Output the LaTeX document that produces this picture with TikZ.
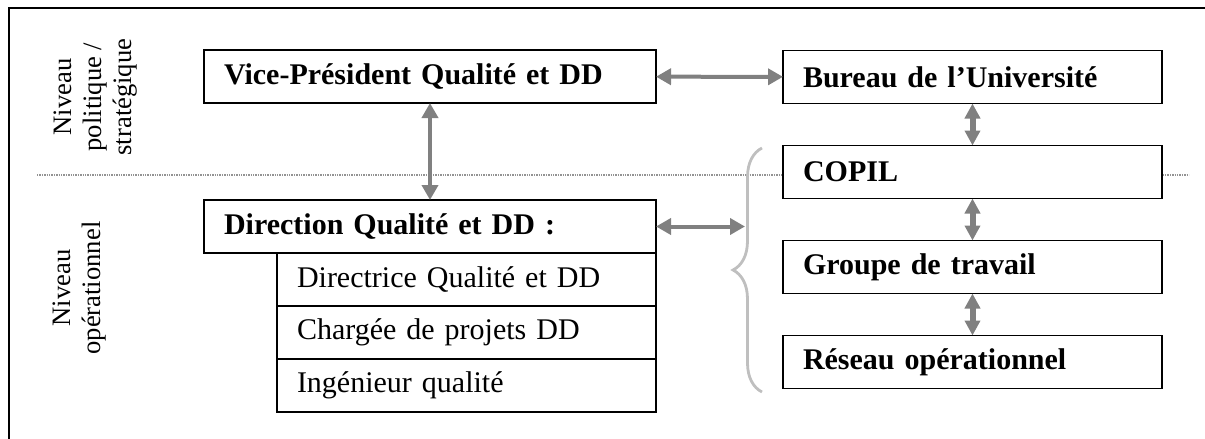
\documentclass[tikz,border=0pt]{standalone}
\usepackage{fontspec}
\setmainfont{Liberation Serif}
\usetikzlibrary{calc}
\usetikzlibrary{arrows.meta,positioning,decorations.pathreplacing}

\tikzset{
  box/.style={draw,fill=white,line width=0.6pt,outer sep=0pt,inner xsep=10pt,
    minimum height=26.5pt,align=left,text width=169.5pt,font=\fontsize{15}{18}\selectfont},
  headbox/.style={box,font=\bfseries\fontsize{15}{18}\selectfont},
  widebox/.style={headbox,text width=206pt},
  level/.style={align=center,rotate=90,font=\fontsize{13.3}{15}\selectfont},
  biglink/.style={draw=gray,line width=2pt,{Triangle[width=8pt,length=7.5pt]}-{Triangle[width=8pt,length=7.5pt]}},
  smalllink/.style={draw=gray,line width=3pt,{Triangle[width=7.5pt,length=7.5pt]}-{Triangle[width=7.5pt,length=7.5pt]}}
}

\begin{document}
\begin{tikzpicture}[x=0.5pt,y=-0.5pt]
    \useasboundingbox (0,0) rectangle (1205,439);
    \draw[line width=1pt] (9,439) -- (9,8) -- (1205,8);
    % separation between the two levels
    \coordinate (sepL) at (37,175);
    \coordinate (sepR) at (1189,175);
    \draw[gray!85,line width=1pt,dash pattern=on 0.7pt off 0.5pt] (sepL) -- (sepR);
    \node[level] (polLbl) at (96,97) {Niveau\\politique /\\stratégique};
    \node[level] (opLbl) at (80,288) {Niveau\\opérationnel};
    % left column
    \node[widebox] (vp) at (430,76.5) {Vice-Président Qualité et DD};
    \node[widebox] (direction) at (430,226.5) {Direction Qualité et DD :};
    \node[box,anchor=north east] (dir1) at (direction.south east) {Directrice Qualité et DD};
    \node[box,below=0pt of dir1] (dir2) {Chargée de projets DD};
    \node[box,below=0pt of dir2] (dir3) {Ingénieur qualité};
    % right column
    \node[headbox] (bureau) at (972.5,77) {Bureau de l’Université};
    \node[headbox,below=21pt of bureau] (copil) {COPIL};
    \node[headbox,below=21pt of copil] (groupe) {Groupe de travail};
    \node[headbox,below=21pt of groupe] (reseau) {Réseau opérationnel};
    \coordinate (braceTop) at (762,148);
    \coordinate (braceBot) at (762,392);
    \coordinate (braceIn) at (745,226.5);
    \draw[gray!50,line width=1.4pt,decorate,decoration={brace,amplitude=14.5pt}] (braceBot) -- (braceTop);
    \draw[biglink] (vp) -- (bureau);
    \draw[biglink] (vp) -- (direction);
    \draw[biglink] (direction.east) -- (braceIn);
    \draw[smalllink] (bureau) -- (copil);
    \draw[smalllink] (copil) -- (groupe);
    \draw[smalllink] (groupe) -- (reseau);
\end{tikzpicture}
\end{document}
